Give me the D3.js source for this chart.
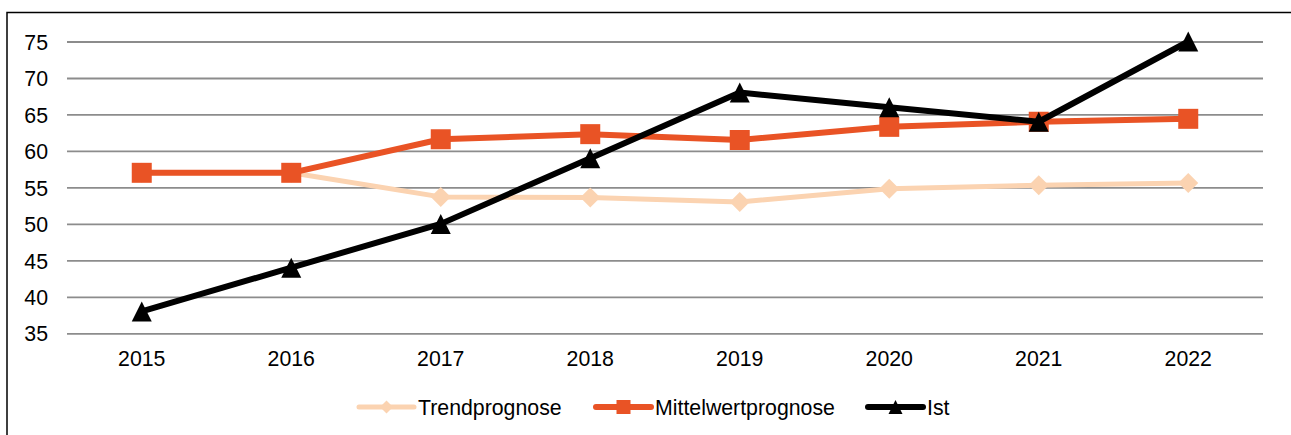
<!DOCTYPE html>
<html>
<head>
<meta charset="utf-8">
<script src="https://cdn.jsdelivr.net/npm/d3@7"></script>
<style>
  body { margin: 0; background: #fff; }
  svg text { font-family: "Liberation Sans", Arial, sans-serif; fill: #000; }
</style>
</head>
<body>
<svg id="chart"></svg>
<script>
// chart data
var years = ["2015", "2016", "2017", "2018", "2019", "2020", "2021", "2022"];
var trend = [57, 57, 53.7, 53.6, 53.0, 54.8, 55.3, 55.6];
var mittel = [57, 57, 61.6, 62.3, 61.5, 63.3, 64.0, 64.4];
var ist = [38, 44, 50, 59, 68, 66, 64, 75];
var yTicks = [35, 40, 45, 50, 55, 60, 65, 70, 75];

var screen = {width: 1291, height: 435};

var svg = d3.select("#chart")
    .attr("width", screen.width)
    .attr("height", screen.height);

// frame around the chart area (runs off the page at right and bottom)
svg.append("rect")
    .attr("x", 7)
    .attr("y", 12.5)
    .attr("width", 1400)
    .attr("height", 600)
    .attr("fill", "none")
    .attr("stroke", "#000")
    .attr("stroke-width", 1.5);

var xScale = d3.scaleBand()
    .domain(years)
    .range([67, 1263]);

var yScale = d3.scaleLinear()
    .domain([35, 75])
    .range([333.3, 41.5]);

var xPos = function(i) { return xScale(years[i]) + xScale.bandwidth() / 2; };

// horizontal grid lines via the y axis
var yAxis = d3.axisLeft(yScale)
    .tickValues(yTicks)
    .tickSize(-(1263 - 67))
    .tickPadding(19);

var gy = svg.append("g")
    .attr("transform", "translate(67,0)")
    .call(yAxis);
gy.select(".domain").remove();
gy.selectAll(".tick line")
    .attr("stroke", "#8c8c8c")
    .attr("stroke-width", 1.8);
gy.selectAll(".tick text")
    .attr("font-size", "21.3px")
    .attr("dy", "0.36em");

var xAxis = d3.axisBottom(xScale).tickSize(0).tickPadding(0);
var gx = svg.append("g")
    .attr("transform", "translate(0,366)")
    .call(xAxis);
gx.select(".domain").remove();
gx.selectAll(".tick text")
    .attr("font-size", "21.3px")
    .attr("dy", 0);

var series = [
    {name: "Trendprognose", values: trend, color: "#fbd3b1", width: 5, marker: "diamond", size: 20, lsize: 13},
    {name: "Mittelwertprognose", values: mittel, color: "#e95325", width: 6, marker: "square", size: 20, lsize: 14},
    {name: "Ist", values: ist, color: "#000000", width: 6, marker: "triangle", size: 20, lsize: 14}
];

var markerPath = function(type, s) {
    var h = s / 2;
    if (type == "diamond") return "M0," + (-h) + "L" + h + ",0L0," + h + "L" + (-h) + ",0Z";
    if (type == "square") return "M" + (-h) + "," + (-h) + "h" + s + "v" + s + "h" + (-s) + "Z";
    return "M0," + (-h) + "L" + h + "," + h + "L" + (-h) + "," + h + "Z";
};

var line = d3.line()
    .x(function(d, i) { return xPos(i); })
    .y(function(d) { return yScale(d); });

series.forEach(function(s) {
    svg.append("path")
        .datum(s.values)
        .attr("d", line)
        .attr("fill", "none")
        .attr("stroke", s.color)
        .attr("stroke-width", s.width)
        .attr("stroke-linejoin", "round")
        .attr("stroke-linecap", "round");

    svg.selectAll(".m-" + s.marker)
        .data(s.values)
        .enter()
        .append("path")
        .attr("class", "m-" + s.marker)
        .attr("d", markerPath(s.marker, s.size))
        .attr("transform", function(d, i) { return "translate(" + xPos(i) + "," + yScale(d) + ")"; })
        .attr("fill", s.color);
});

// legend
var legendX = [359, 596, 868];
var legendY = 407;
series.forEach(function(s, i) {
    var g = svg.append("g").attr("transform", "translate(" + legendX[i] + "," + legendY + ")");
    g.append("line")
        .attr("x1", 0).attr("x2", 55)
        .attr("stroke", s.color)
        .attr("stroke-width", s.width)
        .attr("stroke-linecap", "round");
    g.append("path")
        .attr("d", markerPath(s.marker, s.lsize))
        .attr("transform", "translate(27.5,0)")
        .attr("fill", s.color);
    g.append("text")
        .attr("x", 59)
        .attr("y", 0)
        .attr("dy", "0.36em")
        .attr("font-size", "21.3px")
        .text(s.name);
});
</script>
</body>
</html>
